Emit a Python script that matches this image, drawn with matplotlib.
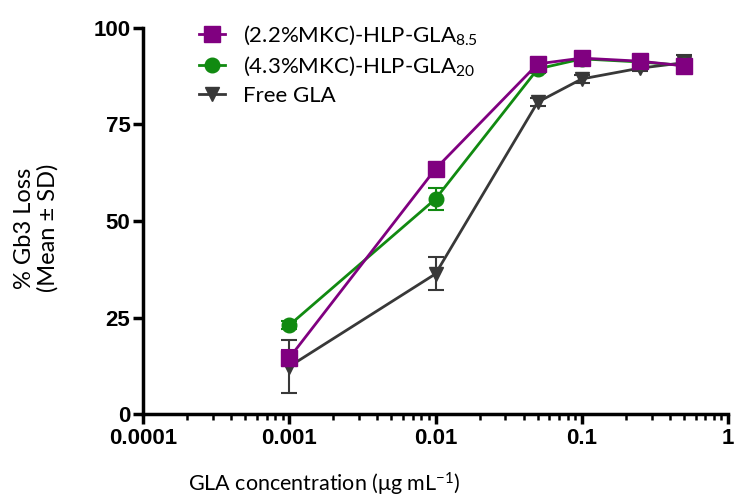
import matplotlib
matplotlib.use("Agg")
import matplotlib.pyplot as plt
import numpy as np
from matplotlib.ticker import LogLocator, NullFormatter
from matplotlib.lines import Line2D

conc = [0.001, 0.01, 0.05, 0.1, 0.25, 0.5]
mkc22 = [14.5, 63.5, 90.7, 92.2, 91.4, 90.2]
mkc22_sd = [2.0, 1.5, 1.0, 1.0, 0.8, 1.0]
mkc43 = [23.0, 55.7, 89.4, 92.0, 91.2, 90.3]
mkc43_sd = [1.0, 2.8, 1.0, 0.8, 0.8, 0.8]
free = [12.3, 36.3, 80.8, 86.8, 89.6, 91.0]
free_sd = [6.9, 4.3, 1.0, 1.0, 0.8, 2.0]

labels = [r"(2.2%MKC)-HLP-GLA$_{8.5}$", r"(4.3%MKC)-HLP-GLA$_{20}$", "Free GLA"]
colors = ['#800080', '#118a11', '#383838']

plt.rcParams['mathtext.fontset'] = 'custom'
plt.rcParams['mathtext.rm'] = 'Lato'
plt.rcParams['mathtext.it'] = 'Lato'

fig = plt.figure(figsize=(7.37, 5.01), dpi=100)
ax = fig.add_axes([143 / 737, 87 / 501, 585 / 737, 386 / 501])

ax.errorbar(conc, free, yerr=free_sd, color=colors[2], marker='v', ms=10, lw=2,
            capsize=5.5, capthick=1.5, elinewidth=1.5, zorder=2)
ax.errorbar(conc, mkc43, yerr=mkc43_sd, color=colors[1], marker='o', ms=10.5, lw=2,
            capsize=5.5, capthick=1.5, elinewidth=1.5, zorder=3)
ax.errorbar(conc, mkc22, yerr=mkc22_sd, color=colors[0], marker='s', ms=11, lw=2,
            capsize=5.5, capthick=1.5, elinewidth=1.5, zorder=4)

ax.set_xscale('log')
ax.set_xlim(0.0001, 1)
ax.set_ylim(0, 100)
ax.set_xticks([0.0001, 0.001, 0.01, 0.1, 1])
ax.set_xticklabels(['0.0001', '0.001', '0.01', '0.1', '1'])
ax.xaxis.set_minor_locator(LogLocator(base=10, subs=np.arange(2, 10)))
ax.xaxis.set_minor_formatter(NullFormatter())
ax.set_yticks([0, 25, 50, 75, 100])

for s in ['top', 'right']:
    ax.spines[s].set_visible(False)
for s in ['left', 'bottom']:
    ax.spines[s].set_linewidth(2.5)
ax.tick_params(axis='both', which='major', length=7, width=2.5, direction='out')
ax.tick_params(axis='x', which='minor', length=4, width=1.8, direction='out')
for lab in ax.get_xticklabels() + ax.get_yticklabels():
    lab.set_fontfamily('Liberation Sans')
    lab.set_fontweight('bold')
    lab.set_fontsize(16)
ax.tick_params(axis='x', pad=3)
ax.tick_params(axis='y', pad=2)

fig.text(324 / 737, 1 - 484 / 501, 'GLA concentration (μg mL$^{-1}$)', fontsize=15.5,
         family='Lato', ha='center', va='center')
fig.text(36 / 737, 1 - 228 / 501, '% Gb3 Loss\n(Mean ± SD)', fontsize=17,
         family='Lato', ha='center', va='center', rotation=90, linespacing=1.1)

handles = [Line2D([], [], color=colors[0], marker='s', ms=11, lw=2),
           Line2D([], [], color=colors[1], marker='o', ms=10.5, lw=2),
           Line2D([], [], color=colors[2], marker='v', ms=10, lw=2)]
leg = ax.legend(handles, labels, loc='upper left',
                bbox_to_anchor=(0.08, 1.035), frameon=False,
                prop={'family': 'Lato', 'size': 16}, handlelength=1.2,
                handletextpad=0.8, labelspacing=0.35, borderaxespad=0)

fig.savefig('out.png', dpi=100)
